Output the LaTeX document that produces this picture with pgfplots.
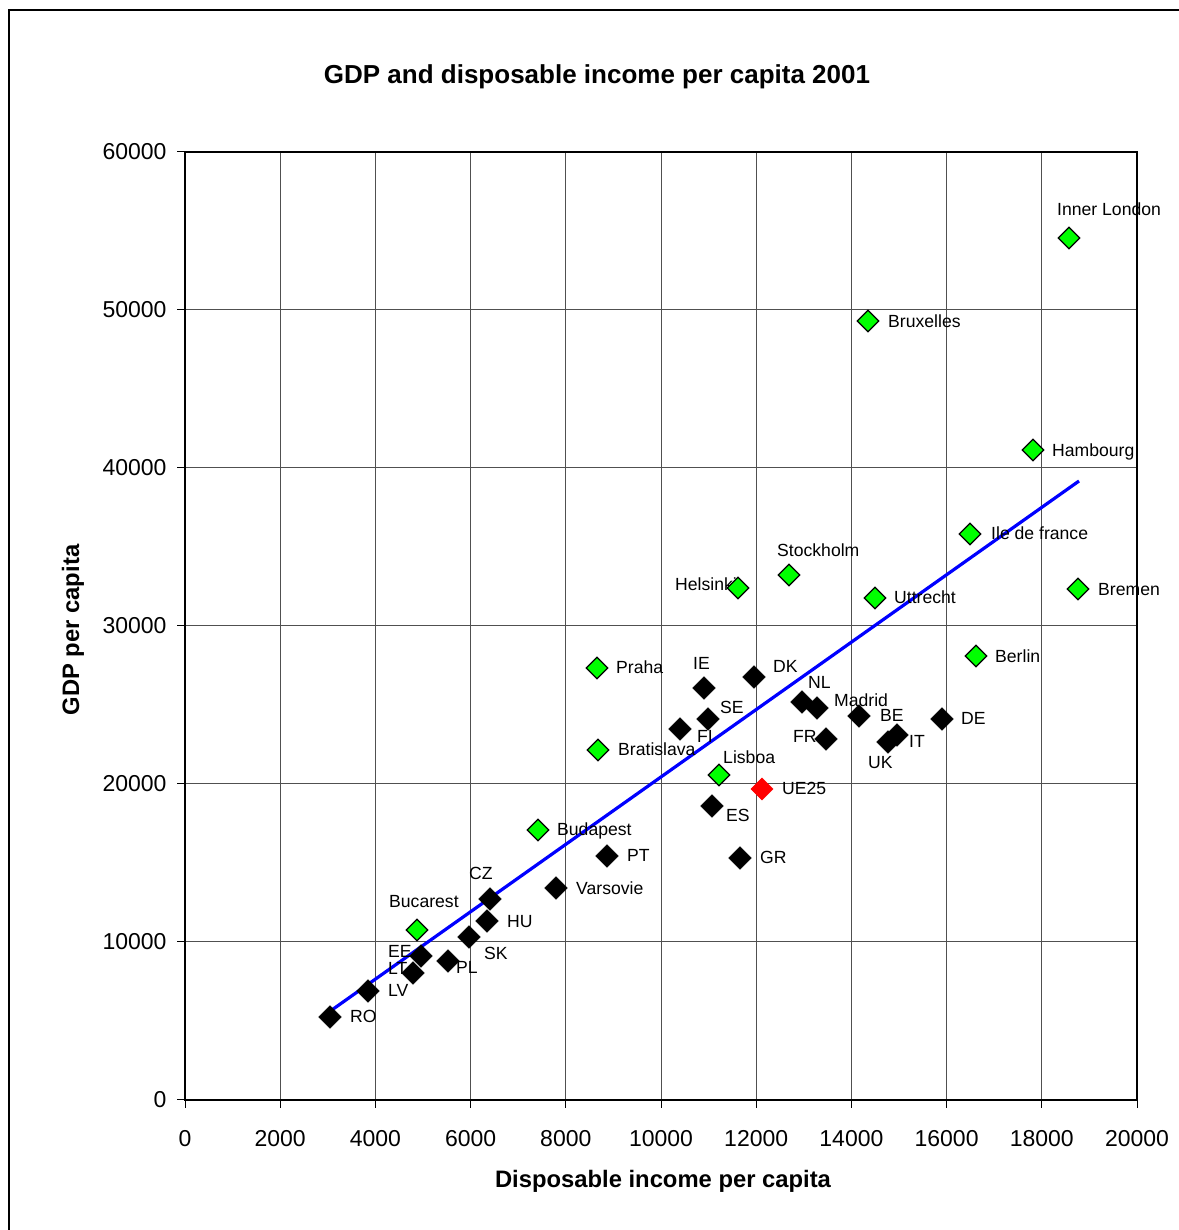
\documentclass[border=0pt]{standalone}
\usepackage{pgfplots}
\pgfplotsset{compat=1.18}
\usepackage{fontspec}
\setmainfont{Liberation Sans}
\definecolor{lgreen}{RGB}{0,255,0}
\definecolor{gridc}{RGB}{80,80,80}
\begin{document}
\begin{tikzpicture}[x=1pt,y=1pt]
\useasboundingbox (0,0) rectangle (1178,1230);
\draw[line width=2.5pt] (9,-10) -- (9,1220) -- (1190,1220);
\node[font=\bfseries\fontsize{26}{30}\selectfont] at (597,1153) {GDP and disposable income per capita 2001};
\node[font=\bfseries\fontsize{23.8}{28}\selectfont] at (663,49) {Disposable income per capita};
\node[font=\bfseries\fontsize{23.8}{28}\selectfont, rotate=90] at (73,600) {GDP per capita};
\begin{axis}[
  at={(185pt,130pt)}, anchor=south west,
  scale only axis, width=952pt, height=948pt,
  xmin=0, xmax=20000, ymin=0, ymax=60000,
  xtick={0,2000,...,20000}, ytick={0,10000,...,60000},
  scaled ticks=false,
  /pgf/number format/fixed,
  /pgf/number format/1000 sep={},
  /pgf/number format/assume math mode=true,
  tick label style={font=\fontsize{23}{27}\selectfont},
  xticklabel style={yshift=-19pt},
  yticklabel style={xshift=-7pt},
  grid=major,
  major grid style={gridc, line width=1pt},
  axis line style={black, line width=1.2pt},
  tick style={black, line width=1pt},
  tick align=outside, tick pos=left,
  major tick length=8pt,
  clip=false,
]
% black countries
\addplot[only marks, mark=square*, mark size=8pt, mark options={rotate=45, fill=black, draw=black}] coordinates {
(3046,5253) (3845,6899) (4790,8038) (4958,9114) (5525,8797) (5966,10316)
(6345,11329) (6408,12722) (7794,13418) (8866,15443) (11660,15316) (11071,18608)
(10399,23481) (10987,24114) (10903,26076) (11954,26772) (12962,25190) (13277,24810)
(13466,22848) (14160,24304) (14769,22658) (14958,23101) (15903,24114)
};
% green regions
\addplot[only marks, mark=square*, mark size=7.6pt, mark options={rotate=45, fill=lgreen, draw=black, line width=1.3pt}] coordinates {
(18571,54557) (14349,49304) (17815,41139) (16492,35823) (18761,32342) (12689,33228)
(11618,32405) (14496,31772) (16618,28101) (8655,27342) (8676,22152) (11218,20570)
(7416,17089) (4874,10759)
};
% EU25
\addplot[only marks, mark=square*, mark size=7.8pt, mark options={rotate=45, fill=red, draw=red}] coordinates {(12122,19684)};
% trend line
\addplot[blue, line width=3.2pt, no marks] coordinates {(3025,5570) (18782,39177)};
% labels
\begin{scope}[every node/.style={anchor=mid west, inner sep=0pt, yshift=-4pt, font=\fontsize{17.6}{20}\selectfont}]
\node at (axis cs:18319,56392) {Inner London};
\node at (axis cs:14769,49304) {Bruxelles};
\node at (axis cs:18214,41139) {Hambourg};
\node at (axis cs:16933,35886) {Ile de france};
\node at (axis cs:19181,32342) {Bremen};
\node at (axis cs:12437,34810) {Stockholm};
\node at (axis cs:10294,32658) {Helsinki};
\node at (axis cs:14895,31835) {Uttrecht};
\node at (axis cs:17017,28101) {Berlin};
\node at (axis cs:9055,27405) {Praha};
\node at (axis cs:9097,22215) {Bratislava};
\node at (axis cs:11303,21709) {Lisboa};
\node at (axis cs:7815,17152) {Budapest};
\node at (axis cs:4286,12595) {Bucarest};
\node at (axis cs:12542,19747) {UE25};
\node at (axis cs:3466,5316) {RO};
\node at (axis cs:4265,6962) {LV};
\node at (axis cs:4265,8354) {LT};
\node at (axis cs:4265,9430) {EE};
\node at (axis cs:5693,8418) {PL};
\node at (axis cs:6282,9304) {SK};
\node at (axis cs:6765,11329) {HU};
\node at (axis cs:5966,14367) {CZ};
\node at (axis cs:8214,13418) {Varsovie};
\node at (axis cs:9286,15506) {PT};
\node at (axis cs:12080,15380) {GR};
\node at (axis cs:11366,18038) {ES};
\node at (axis cs:10756,23038) {FI};
\node at (axis cs:11239,24873) {SE};
\node at (axis cs:10672,27658) {IE};
\node at (axis cs:12353,27468) {DK};
\node at (axis cs:13088,26456) {NL};
\node at (axis cs:13634,25316) {Madrid};
\node at (axis cs:12773,23038) {FR};
\node at (axis cs:14601,24367) {BE};
\node at (axis cs:14349,21392) {UK};
\node at (axis cs:15210,22722) {IT};
\node at (axis cs:16303,24177) {DE};
\end{scope}
\end{axis}
\end{tikzpicture}
\end{document}
